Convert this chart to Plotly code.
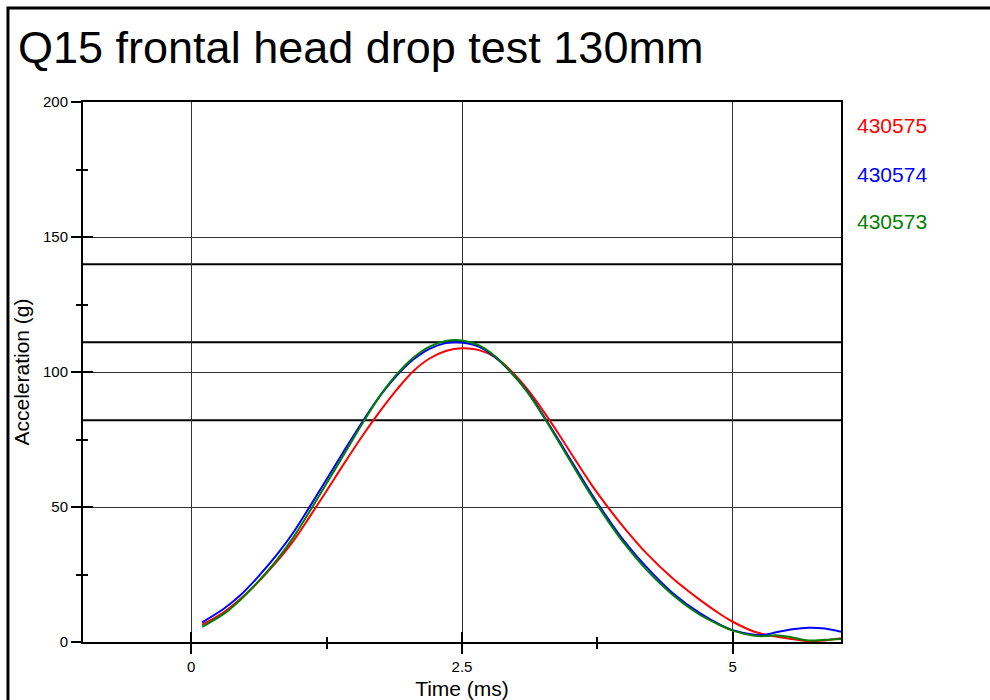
import plotly.graph_objects as go

# ---------------- data ----------------
time_ms = [0.1, 0.3, 0.45, 0.6, 0.8, 0.95, 1.1, 1.25, 1.4, 1.6, 1.75, 1.9, 2.05, 2.2, 2.35, 2.5,
           2.65, 2.8, 2.95, 3.1, 3.25, 3.4, 3.55, 3.7, 3.85, 4.0, 4.2, 4.45, 4.7, 4.9, 5.0,
           5.2, 5.3, 5.4, 5.55, 5.7, 5.85, 6.0]

acc_430575 = [6.4, 11.0, 15.8, 21.5, 30.2, 37.8, 46.8, 56.0, 65.4, 77.5, 85.9, 93.6, 100.3, 105.0, 107.8, 108.8,
              108.2, 105.6, 100.6, 93.8, 85.6, 76.6, 67.2, 58.0, 49.8, 42.2, 33.0, 23.4, 15.5, 9.9, 7.5,
              3.8, 2.8, 2.0, 1.1, 0.3, 0.6, 1.4]
acc_430574 = [7.3, 12.3, 17.2, 23.4, 32.8, 41.0, 50.5, 60.3, 70.1, 82.8, 91.5, 98.8, 104.6, 108.6, 110.7, 110.9,
              109.5, 105.7, 100.0, 93.0, 84.0, 74.3, 64.4, 54.6, 45.6, 37.3, 27.9, 18.0, 10.6, 6.1, 4.4,
              2.7, 2.7, 3.6, 4.7, 5.3, 5.0, 3.8]
acc_430573 = [5.6, 10.4, 15.5, 21.6, 30.9, 39.2, 48.8, 58.8, 68.8, 82.2, 91.6, 99.3, 105.3, 109.4, 111.5, 111.7,
              110.0, 106.0, 100.0, 92.7, 83.6, 73.7, 63.6, 53.8, 44.7, 36.4, 26.9, 17.3, 10.0, 5.9, 4.2,
              2.3, 2.2, 2.5, 1.7, 0.6, 0.8, 1.1]

series_names = ["430575", "430574", "430573"]
series_values = [acc_430575, acc_430574, acc_430573]
series_colors = ["#ff0000", "#0000ff", "#008000"]

limit_lines = [139.9, 111.0, 82.1]

x_tick_vals = [0, 2.5, 5]
x_tick_text = ["0", "2.5", "5"]
y_tick_vals = [0, 50, 100, 150, 200]
y_tick_text = ["0", "50", "100", "150", "200"]

FONT = "Liberation Sans, Arial, sans-serif"

fig = go.Figure()

for name, vals, col in zip(series_names, series_values, series_colors):
    fig.add_trace(go.Scatter(x=time_ms, y=vals, mode="lines", name=name,
                             line=dict(color=col, width=2, shape="spline", smoothing=1.0),
                             showlegend=False))

# helper trace for overlay axes (inside ticks)
fig.add_trace(go.Scatter(x=[None], y=[None], xaxis="x2", yaxis="y2",
                         showlegend=False, hoverinfo="skip"))

for v in limit_lines:
    fig.add_hline(y=v, line=dict(color="black", width=2), layer="below")

# legend as coloured text labels
leg_y = [0.957, 0.866, 0.778]
for name, col, yy in zip(series_names, series_colors, leg_y):
    fig.add_annotation(text=name, xref="paper", yref="paper", x=1.018, y=yy,
                       xanchor="left", yanchor="middle", showarrow=False,
                       font=dict(family=FONT, size=21, color=col))

# outer frame
fig.add_shape(type="rect", xref="paper", yref="paper",
              x0=-0.099, x1=1.3, y0=-0.2, y1=1.174,
              line=dict(color="black", width=3), layer="above")

common_axis = dict(showline=True, linecolor="black", linewidth=2, mirror=True,
                   zeroline=False, gridcolor="#333333", gridwidth=1, automargin=False,
                   tickcolor="black", tickwidth=2, ticklen=10, ticks="outside",
                   tickfont=dict(family=FONT, size=15, color="black"))

fig.update_layout(
    width=990, height=700,
    margin=dict(l=83, r=149, t=102, b=58),
    paper_bgcolor="white", plot_bgcolor="white",
    title=dict(text="Q15 frontal head drop test 130mm", x=18/990, xref="container",
               xanchor="left", y=1-47/700, yref="container", yanchor="middle",
               font=dict(family=FONT, size=45, color="black")),
    xaxis=dict(range=[-1, 6], tickmode="array", tickvals=x_tick_vals, ticktext=x_tick_text,
               showgrid=True,
               minor=dict(ticks="outside", ticklen=5, tickwidth=2, tickcolor="black",
                          tickmode="linear", tick0=0, dtick=1.25, showgrid=False),
               title=dict(text="Time (ms)", standoff=8,
                          font=dict(family=FONT, size=21, color="black")),
               **common_axis),
    yaxis=dict(range=[0, 200], tickmode="array", tickvals=y_tick_vals, ticktext=y_tick_text,
               showgrid=True,
               minor=dict(ticks="outside", ticklen=5, tickwidth=2, tickcolor="black",
                          tickmode="linear", tick0=0, dtick=25, showgrid=False),
               title=dict(text="Acceleration (g)", standoff=8,
                          font=dict(family=FONT, size=21, color="black")),
               **common_axis),
    xaxis2=dict(overlaying="x", range=[-1, 6], side="bottom", tickmode="array",
                tickvals=x_tick_vals, showticklabels=False, showgrid=False, zeroline=False,
                showline=False, ticks="inside", ticklen=10, tickwidth=2, tickcolor="black",
                minor=dict(ticks="inside", ticklen=5, tickwidth=2, tickcolor="black",
                           tickmode="linear", tick0=0, dtick=1.25, showgrid=False)),
    yaxis2=dict(overlaying="y", range=[0, 200], side="left", tickmode="array",
                tickvals=y_tick_vals, showticklabels=False, showgrid=False, zeroline=False,
                showline=False, ticks="inside", ticklen=10, tickwidth=2, tickcolor="black",
                minor=dict(ticks="inside", ticklen=5, tickwidth=2, tickcolor="black",
                           tickmode="linear", tick0=0, dtick=25, showgrid=False)),
    showlegend=False,
)

fig.write_html("out.html")
